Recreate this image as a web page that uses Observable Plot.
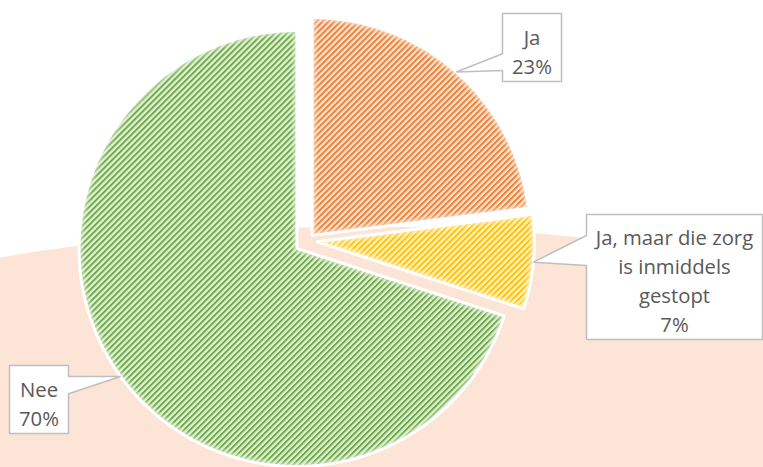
<!DOCTYPE html>
<html>
<head>
<meta charset="utf-8">
<script src="https://cdn.jsdelivr.net/npm/d3@7"></script>
<script src="https://cdn.jsdelivr.net/npm/@observablehq/plot@0.6"></script>
<style>
  html, body { margin: 0; padding: 0; background: #ffffff; overflow: hidden; }
  #chart svg { display: block; }
</style>
</head>
<body>
<div id="chart"></div>
<script>
// ---- data ----
const categories = ["Ja", "Ja, maar die zorg is inmiddels gestopt", "Nee"];
const labelLines = [["Ja"], ["Ja, maar die zorg", "is inmiddels", "gestopt"], ["Nee"]];
const percents = [23, 7, 70];

// ---- layout & style ----
const W = 763, H = 467;
const pieLayout = { cx: 307, cy: 240.3, r: 218, explode: [7, 9, 13] };
const calloutLayout = [
  { box: [502, 13, 561, 81], base: [53.3, 70], side: "left" },
  { box: [586, 214, 762, 339], base: [235, 265], side: "left" },
  { box: [9, 365, 68, 433], base: [376, 393.3], side: "right" }
];
const backdrop = { cx: 364, cy: 2382, r: 2156, fill: "#fce4d6" };
const hatch = [
  { id: "hatch-ja", line: "#ed7d31", bg: "#fce0cc" },
  { id: "hatch-gestopt", line: "#ffc000", bg: "#fff0c4" },
  { id: "hatch-nee", line: "#6aa842", bg: "#e0eed6" }
];

// ---- geometry from data ----
const arcs = d3.pie().sort(null).startAngle(0).endAngle(2 * Math.PI)(percents);
const slices = arcs.map((a, i) => {
  const mid = (a.startAngle + a.endAngle) / 2;
  const d = pieLayout.explode[i];
  const vx = pieLayout.cx + d * Math.sin(mid);
  const vy = pieLayout.cy - d * Math.cos(mid);
  const pts = [{ x: vx, y: vy }];
  const n = Math.max(8, Math.ceil((a.endAngle - a.startAngle) / (Math.PI / 360)));
  for (let k = 0; k <= n; k++) {
    const t = a.startAngle + (a.endAngle - a.startAngle) * k / n;
    pts.push({ x: vx + pieLayout.r * Math.sin(t), y: vy - pieLayout.r * Math.cos(t) });
  }
  const tip = { x: vx + pieLayout.r * Math.sin(mid), y: vy - pieLayout.r * Math.cos(mid) };
  return { category: categories[i], value: percents[i], pts, tip };
});

const callouts = slices.map((s, i) => {
  const L = calloutLayout[i];
  const [x0, y0, x1, y1] = L.box;
  const [ya, yb] = L.base;
  const t = s.tip;
  const pts = L.side === "left"
    ? [[x0, y0], [x1, y0], [x1, y1], [x0, y1], [x0, yb], [t.x, t.y], [x0, ya]]
    : [[x0, y0], [x1, y0], [x1, ya], [t.x, t.y], [x1, yb], [x1, y1], [x0, y1]];
  return {
    pts: pts.map(([x, y]) => ({ x, y })),
    cx: (x0 + x1) / 2,
    cy: (y0 + y1) / 2 + 2.5,
    text: [...labelLines[i], `${s.value}%`].join("\n")
  };
});

const marks = [
  Plot.dot([backdrop], { x: "cx", y: "cy", r: backdrop.r, fill: backdrop.fill, stroke: "none" })
];
slices.forEach((s, i) => {
  marks.push(Plot.line(s.pts, {
    x: "x", y: "y", curve: "linear-closed",
    fill: `url(#${hatch[i].id})`, stroke: "none"
  }));
  marks.push(Plot.line(s.pts, {
    x: "x", y: "y", curve: "linear-closed",
    fill: "none", stroke: hatch[i].bg, strokeWidth: 8, strokeOpacity: 0.6,
    className: "glow glow-" + i
  }));
  marks.push(Plot.line(s.pts, {
    x: "x", y: "y", curve: "linear-closed",
    fill: "none", stroke: "#ffffff", strokeWidth: 3, strokeLinejoin: "miter"
  }));
});
callouts.forEach((c) => {
  marks.push(Plot.line(c.pts, {
    x: "x", y: "y", curve: "linear-closed",
    fill: "#ffffff", stroke: "#bfbfbf", strokeWidth: 1.5, strokeLinejoin: "miter"
  }));
});
marks.push(Plot.text(callouts, {
  x: "cx", y: "cy", text: "text",
  fontSize: 20.3, lineHeight: 1.43, fill: "#595959",
  fontFamily: "Open Sans", textAnchor: "middle", lineAnchor: "middle"
}));

const chart = Plot.plot({
  width: W, height: H, margin: 0,
  x: { domain: [0, W], range: [0, W], axis: null },
  y: { domain: [0, H], range: [0, H], axis: null },
  style: { background: "#ffffff", overflow: "hidden", fontFamily: "Open Sans" },
  marks
});

// patterns + clip for inner glow
const ns = "http://www.w3.org/2000/svg";
const defs = document.createElementNS(ns, "defs");
hatch.forEach((h) => {
  const p = document.createElementNS(ns, "pattern");
  p.setAttribute("id", h.id);
  p.setAttribute("patternUnits", "userSpaceOnUse");
  p.setAttribute("width", "4.24");
  p.setAttribute("height", "4.24");
  p.setAttribute("patternTransform", "rotate(45)");
  const r1 = document.createElementNS(ns, "rect");
  r1.setAttribute("width", "4.24"); r1.setAttribute("height", "4.24"); r1.setAttribute("fill", h.bg);
  const r2 = document.createElementNS(ns, "rect");
  r2.setAttribute("width", "1.9"); r2.setAttribute("height", "4.24"); r2.setAttribute("fill", h.line);
  p.appendChild(r1); p.appendChild(r2);
  defs.appendChild(p);
});
const blur = document.createElementNS(ns, "filter");
blur.setAttribute("id", "soft");
blur.innerHTML = '<feGaussianBlur stdDeviation="1.6"/>';
defs.appendChild(blur);
chart.insertBefore(defs, chart.firstChild);

slices.forEach((s, i) => {
  const g = chart.querySelector(".glow-" + i);
  if (!g) return;
  const path = g.querySelector("path");
  const cp = document.createElementNS(ns, "clipPath");
  cp.setAttribute("id", "clip-" + i);
  const cpPath = document.createElementNS(ns, "path");
  cpPath.setAttribute("d", path.getAttribute("d"));
  cp.appendChild(cpPath);
  defs.appendChild(cp);
  const wrap = document.createElementNS(ns, "g");
  wrap.setAttribute("clip-path", `url(#clip-${i})`);
  g.parentNode.insertBefore(wrap, g);
  wrap.appendChild(g);
  g.setAttribute("filter", "url(#soft)");
});

document.getElementById("chart").appendChild(chart);
</script>
</body>
</html>
